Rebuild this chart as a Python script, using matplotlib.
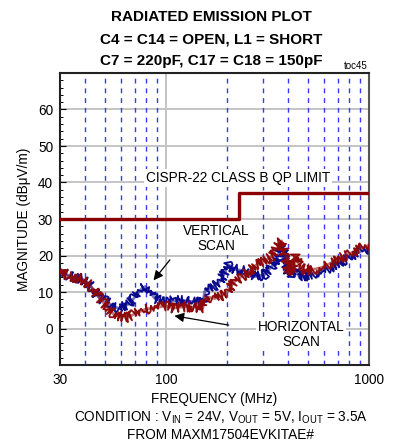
import matplotlib
matplotlib.use("Agg")
import matplotlib.pyplot as plt
from matplotlib.ticker import FixedLocator, NullFormatter, MultipleLocator

plt.rcParams["font.family"] = ["Liberation Sans", "DejaVu Sans"]

# vertical scan (blue), MHz / dBuV/m
v_freq = [30, 33, 35.4, 38.5, 41.5, 43, 47, 50, 55, 59, 65, 70, 73, 76, 79, 82, 88, 95,
          100, 108, 124, 140, 152, 155, 165, 174, 185, 195, 202, 210, 219, 245, 274,
          307, 336, 352, 371, 385, 399, 408, 431, 457, 493, 584, 680, 789, 921, 1000]
v_mag = [15.8, 14.5, 13.9, 13.6, 12.4, 11.2, 8.3, 7.6, 6.0, 5.5, 6.6, 8.5, 9.8, 11.0,
         11.5, 10.5, 8.2, 7.4, 7.3, 7.6, 7.6, 7.2, 7.1, 10.2, 10.8, 11.7, 13.0, 15.3,
         17.5, 17.0, 16.2, 15.8, 14.2, 14.8, 17.4, 19.0, 23.0, 19.0, 15.8, 14.5, 16.5,
         13.9, 14.5, 15.8, 17.2, 19.4, 21.3, 21.8]

# horizontal scan (red)
h_freq = [30, 33, 35.4, 38.5, 41.5, 43, 47, 50, 55, 59, 65, 70, 73, 79, 88, 100, 108,
          124, 140, 152, 155, 174, 195, 202, 219, 245, 274, 307, 336, 344, 371, 390,
          408, 431, 457, 493, 584, 680, 789, 921, 1000]
h_mag = [16.0, 14.3, 14.0, 13.5, 12.2, 11.2, 8.4, 6.5, 4.0, 3.2, 3.1, 4.0, 4.4, 5.3,
         5.7, 6.2, 5.6, 6.0, 5.8, 5.7, 8.8, 8.2, 9.4, 10.4, 13.1, 14.8, 17.2, 18.6,
         20.0, 21.3, 24.0, 19.0, 14.8, 20.0, 16.7, 15.8, 16.7, 18.5, 20.3, 22.1, 22.8]

# CISPR-22 class B QP limit (3m)
lim_freq = [30, 230, 230, 1000]
lim_mag = [30, 30, 37, 37]

minor_freq = [40, 50, 60, 70, 80, 90, 200, 300, 400, 500, 600, 700, 800, 900]

BLUE = "#0a0a8c"
RED = "#8e0a0a"
FS = 9.8

fig = plt.figure(figsize=(3.94, 4.44), dpi=100)
ax = fig.add_axes([60 / 394, 1 - 365 / 444, 309 / 394, 292 / 444])

ax.set_xscale("log")
ax.set_xlim(30, 1000)
ax.set_ylim(-10, 70)

# grid
for y in range(0, 70, 10):
    ax.axhline(y, color="#c4c4c4", lw=1.4, zorder=1)
ax.axvline(100, color="#c4c4c4", lw=1.4, zorder=1)
for f in minor_freq:
    ax.axvline(f, color="#3a3aff", lw=1.0, ls=(0, (3.5, 3.5)), zorder=1.5)

# traces, drawn with a fine jitter so they read like a receiver sweep
for fr, mg, col in [(v_freq, v_mag, BLUE), (h_freq, h_mag, RED)]:
    ax.plot(fr, mg, color=col, lw=2.0, alpha=0.55, zorder=3)
    ln, = ax.plot(fr, mg, color=col, lw=1.3, zorder=3)
    ln.set_sketch_params(scale=5.0, length=0.12, randomness=1.2)

ax.plot(lim_freq, lim_mag, color="#8b0000", lw=2.4, zorder=4)

ax.set_xticks([30, 100, 1000])
ax.set_xticklabels(["30", "100", "1000"])
ax.xaxis.set_minor_locator(FixedLocator(minor_freq))
ax.xaxis.set_minor_formatter(NullFormatter())
ax.tick_params(axis="x", which="both", length=0, labelsize=FS, pad=6)
ax.set_yticks(range(0, 70, 10))
ax.yaxis.set_minor_locator(MultipleLocator(2))
ax.tick_params(axis="y", which="major", direction="in", length=4, width=0.8,
               labelsize=FS, pad=5)
ax.tick_params(axis="y", which="minor", direction="in", length=2.5, width=0.7)

for s in ["left", "bottom", "top"]:
    ax.spines[s].set_linewidth(1.5)
    ax.spines[s].set_color("#222222")
ax.spines["right"].set_linewidth(1.5)
ax.spines["right"].set_color("#555555")

ax.set_ylabel("MAGNITUDE (dB\u03bcV/m)", fontsize=FS, labelpad=5)
ax.set_xlabel("FREQUENCY (MHz)", fontsize=FS, labelpad=3)

box = dict(facecolor="white", edgecolor="none", pad=1.5)
ax.text(226, 41.3, "CISPR-22 CLASS B QP LIMIT", fontsize=FS, ha="center",
        va="center", bbox=box, zorder=5)
ax.text(176, 24.6, "VERTICAL\nSCAN", fontsize=FS, ha="center", va="center",
        linespacing=1.05, bbox=box, zorder=5)
ax.text(462, -1.6, "HORIZONTAL\nSCAN", fontsize=FS, ha="center", va="center",
        linespacing=1.05, bbox=box, zorder=5)

arrow = dict(arrowstyle="-|>", color="black", lw=0.9, mutation_scale=14)
ax.annotate("", xy=(85, 12.6), xytext=(106.5, 19.4), arrowprops=arrow, zorder=6)
ax.annotate("", xy=(106.5, 3.6), xytext=(210, 0.8), arrowprops=arrow, zorder=6)

for i, line in enumerate(["RADIATED EMISSION PLOT", "C4 = C14 = OPEN, L1 = SHORT",
                          "C7 = 220pF, C17 = C18 = 150pF"]):
    fig.text(0.537, 1 - (17 + 22 * i) / 444, line, ha="center", va="center",
             fontsize=11, fontweight="bold")
fig.text(368 / 394, 1 - 66 / 444, "toc45", ha="right", va="center", fontsize=7)

fig.text(0.56, 1 - 418 / 444,
         r"CONDITION : $\mathregular{V_{IN}}$ = 24V, $\mathregular{V_{OUT}}$ = 5V, "
         r"$\mathregular{I_{OUT}}$ = 3.5A",
         ha="center", va="center", fontsize=FS)
fig.text(0.56, 1 - 435 / 444, "FROM MAXM17504EVKITAE#", ha="center", va="center",
         fontsize=FS)

fig.savefig("out.png", dpi=100)
